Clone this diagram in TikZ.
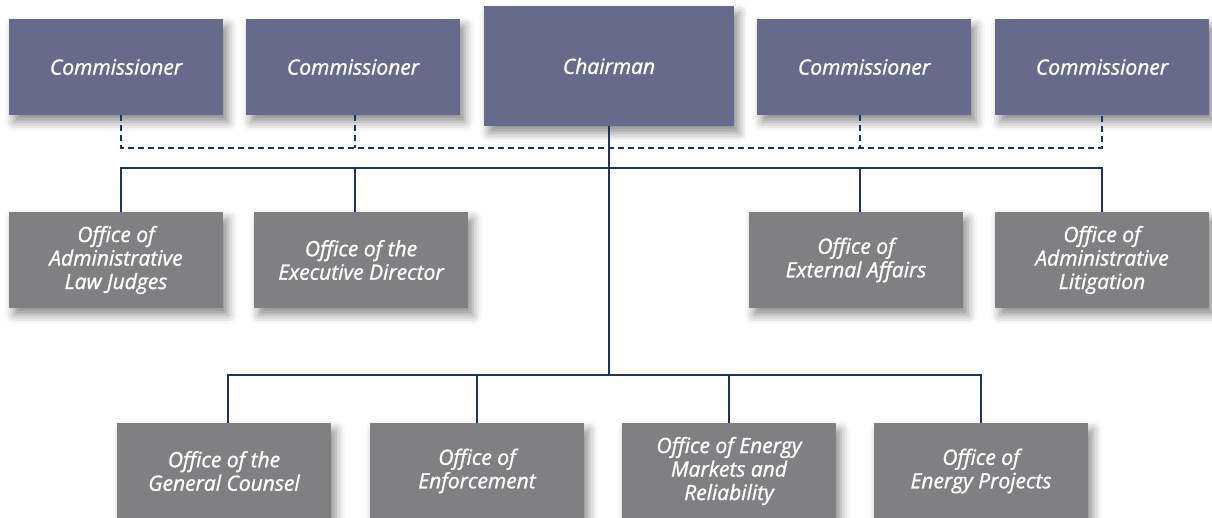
\documentclass[tikz,border=0pt]{standalone}
\usepackage{fontspec}
\setmainfont{Open Sans}[ItalicFeatures={FakeBold=1.2}]
\usetikzlibrary{shadows.blur}
\definecolor{boardfill}{RGB}{104,106,139}
\definecolor{officefill}{RGB}{128,128,131}
\definecolor{linknavy}{RGB}{30,50,100}
\tikzset{
  boxbase/.style={rectangle, minimum width=214pt, minimum height=96pt, inner sep=0pt,
    align=center, text=white, font=\fontsize{21}{23.5}\selectfont\itshape,
    blur shadow={shadow xshift=5pt, shadow yshift=-7pt, shadow blur radius=9pt, shadow opacity=45}},
  boardbox/.style={boxbase, fill=boardfill},
  officebox/.style={boxbase, fill=officefill},
  solidlink/.style={draw=linknavy, line width=1.4pt},
  dashlink/.style={draw=linknavy, line width=1.2pt, dash pattern=on 6pt off 4pt}
}

\begin{document}
\begin{tikzpicture}[x=1pt, y=-1pt]
			\useasboundingbox (0,0) rectangle (1212,517);
			%%%%% BOARD %%%%%
			\node[boardbox] (com1) at (116, 67) {Commissioner};
			\node[boardbox] (com2) at (353, 67) {Commissioner};
			\node[boardbox, minimum width=250pt, minimum height=120pt] (chair) at (609, 66) {Chairman};
			\node[boardbox] (com3) at (864, 67) {Commissioner};
			\node[boardbox] (com4) at (1102, 67) {Commissioner};
			
			%%%%% OFFICES %%%%%
			\node[officebox] (alj) at (116, 260) {Office of\\Administrative\\Law Judges};
			\node[officebox] (exd) at (361, 260) {Office of the\\Executive Director};
			\node[officebox] (ext) at (856, 260) {Office of\\External Affairs};
			\node[officebox] (lit) at (1102, 260) {Office of\\Administrative\\Litigation};
			
			\node[officebox] (gc) at (224, 471) {Office of the\\General Counsel};
			\node[officebox] (enf) at (477, 471) {Office of\\Enforcement};
			\node[officebox] (emr) at (729, 471) {Office of Energy\\Markets and\\Reliability};
			\node[officebox] (ep) at (981, 471) {Office of\\Energy Projects};
			
			%%%%% LINKS %%%%%
			\coordinate (d1) at (121, 148);
			\coordinate (d2) at (355, 148);
			\coordinate (d3) at (860, 148);
			\coordinate (d4) at (1102, 148);
			\draw[dashlink] (d1 |- com1.south) -- (d1) -- (d4) -- (d4 |- com4.south);
			\draw[dashlink] (d2 |- com2.south) -- (d2);
			\draw[dashlink] (d3 |- com3.south) -- (d3);
			
			\coordinate (m1) at (121, 168);
			\coordinate (m2) at (355, 168);
			\coordinate (m3) at (860, 168);
			\coordinate (m4) at (1102, 168);
			\draw[solidlink] (m1 |- alj.north) -- (m1) -- (m4) -- (m4 |- lit.north);
			\draw[solidlink] (m2) -- (m2 |- exd.north);
			\draw[solidlink] (m3) -- (m3 |- ext.north);
			
			\coordinate (l1) at (228, 375);
			\coordinate (l4) at (981, 375);
			\draw[solidlink] (chair.south) -- (chair.south |- l1);
			\draw[solidlink] (gc.north -| l1) -- (l1) -- (l4) -- (ep.north);
			\draw[solidlink] (enf.north) -- (enf.north |- l1);
			\draw[solidlink] (emr.north) -- (emr.north |- l1);
		\end{tikzpicture}
\end{document}
